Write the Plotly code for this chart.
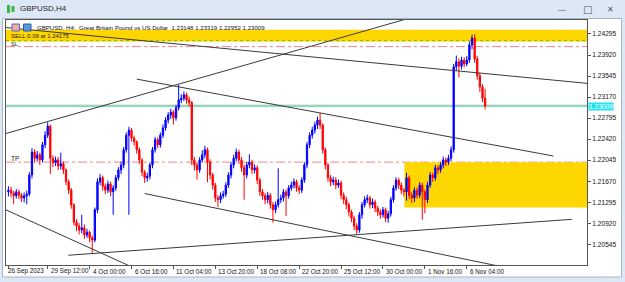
import plotly.graph_objects as go

# ---------------- data ----------------
open_ = [1.2148,1.2151,1.2146,1.2141,1.2148,1.2142,1.2137,1.2141,1.2144,1.2178,
 1.2219,1.2208,1.2214,1.2205,1.2232,1.2249,1.2265,1.2208,1.2200,1.2205,
 1.2194,1.2198,1.2187,1.2166,1.2151,1.2125,1.2094,1.2087,1.2080,1.2084,
 1.2071,1.2076,1.2066,1.2062,1.2116,1.2166,1.2173,1.2158,1.2151,1.2162,
 1.2148,1.2155,1.2173,1.2187,1.2196,1.2223,1.2249,1.2258,1.2244,1.2237,
 1.2223,1.2205,1.2183,1.2173,1.2176,1.2196,1.2223,1.2241,1.2232,1.2249,
 1.2262,1.2276,1.2285,1.2290,1.2280,1.2298,1.2312,1.2315,1.2321,1.2312,
 1.2307,1.2205,1.2196,1.2187,1.2205,1.2214,1.2223,1.2201,1.2178,1.2160,
 1.2137,1.2134,1.2141,1.2144,1.2160,1.2178,1.2196,1.2208,1.2219,1.2205,
 1.2191,1.2178,1.2196,1.2201,1.2187,1.2191,1.2169,1.2148,1.2141,1.2134,
 1.2142,1.2125,1.2116,1.2125,1.2134,1.2137,1.2148,1.2141,1.2155,1.2160,
 1.2166,1.2155,1.2151,1.2169,1.2196,1.2232,1.2249,1.2258,1.2267,1.2276,
 1.2267,1.2223,1.2196,1.2173,1.2166,1.2169,1.2160,1.2164,1.2142,1.2134,
 1.2125,1.2112,1.2101,1.2087,1.2080,1.2107,1.2125,1.2134,1.2137,1.2125,
 1.2130,1.2119,1.2112,1.2107,1.2116,1.2101,1.2109,1.2134,1.2155,1.2169,
 1.2160,1.2151,1.2148,1.2173,1.2142,1.2137,1.2151,1.2142,1.2160,1.2148,
 1.2134,1.2160,1.2178,1.2173,1.2191,1.2187,1.2196,1.2205,1.2201,1.2208,
 1.2223,1.2371,1.2380,1.2372,1.2383,1.2376,1.2383,1.2410,1.2422,1.2385,
 1.2355,1.2335,1.23148]

high = [1.2158,1.2157,1.2150,1.2153,1.2152,1.2146,1.2147,1.2150,1.2183,1.2226,
 1.2224,1.2221,1.2218,1.2237,1.2256,1.2272,1.2268,1.2213,1.2211,1.2210,
 1.2218,1.2202,1.2190,1.2170,1.2155,1.2128,1.2099,1.2092,1.2107,1.2090,
 1.2082,1.2079,1.2070,1.2120,1.2172,1.2180,1.2177,1.2163,1.2168,1.2166,
 1.2160,1.2178,1.2192,1.2202,1.2228,1.2254,1.2264,1.2262,1.2248,1.2240,
 1.2227,1.2208,1.2187,1.2182,1.2200,1.2228,1.2246,1.2245,1.2254,1.2268,
 1.2281,1.2290,1.2296,1.2294,1.2303,1.2339,1.2322,1.2327,1.2325,1.2318,
 1.2310,1.2210,1.2201,1.2210,1.2222,1.2230,1.2227,1.2206,1.2182,1.2164,
 1.2142,1.2147,1.2150,1.2165,1.2183,1.2201,1.2214,1.2225,1.2223,1.2210,
 1.2196,1.2201,1.2215,1.2205,1.2197,1.2195,1.2173,1.2153,1.2146,1.2148,
 1.2146,1.2130,1.2131,1.2190,1.2143,1.2153,1.2152,1.2160,1.2166,1.2172,
 1.2170,1.2160,1.2174,1.2201,1.2237,1.2254,1.2264,1.2273,1.2282,1.2289,
 1.2270,1.2227,1.2200,1.2178,1.2175,1.2174,1.2170,1.2168,1.2147,1.2139,
 1.2129,1.2116,1.2105,1.2092,1.2112,1.2130,1.2140,1.2143,1.2141,1.2136,
 1.2134,1.2123,1.2117,1.2121,1.2120,1.2114,1.2139,1.2160,1.2174,1.2173,
 1.2165,1.2155,1.2182,1.2177,1.2147,1.2156,1.2156,1.2165,1.2164,1.2152,
 1.2166,1.2183,1.2182,1.2196,1.2195,1.2201,1.2211,1.2209,1.2214,1.2229,
 1.2376,1.2391,1.2386,1.2389,1.2388,1.2390,1.2416,1.2428,1.2429,1.2390,
 1.2360,1.2340,1.23319]

low = [1.2140,1.2138,1.2126,1.2136,1.2135,1.2130,1.2129,1.2126,1.2140,1.2172,
 1.2200,1.2203,1.2196,1.2201,1.2226,1.2244,1.2180,1.2192,1.2194,1.2187,
 1.2188,1.2180,1.2160,1.2144,1.2118,1.2088,1.2078,1.2072,1.2074,1.2064,
 1.2066,1.2058,1.2039,1.2058,1.2110,1.2160,1.2150,1.2144,1.2146,1.2140,
 1.2107,1.2150,1.2168,1.2180,1.2190,1.2218,1.2107,1.2238,1.2230,1.2216,
 1.2198,1.2176,1.2164,1.2166,1.2170,1.2190,1.2218,1.2226,1.2227,1.2244,
 1.2257,1.2270,1.2278,1.2268,1.2275,1.2293,1.2306,1.2310,1.2305,1.2300,
 1.2196,1.2186,1.2170,1.2182,1.2200,1.2208,1.2165,1.2170,1.2152,1.2130,
 1.2121,1.2128,1.2136,1.2139,1.2155,1.2172,1.2190,1.2203,1.2198,1.2184,
 1.2134,1.2172,1.2190,1.2180,1.2181,1.2162,1.2141,1.2134,1.2126,1.2128,
 1.2118,1.2093,1.2110,1.2120,1.2128,1.2131,1.2105,1.2136,1.2150,1.2154,
 1.2148,1.2144,1.2146,1.2164,1.2190,1.2226,1.2243,1.2252,1.2260,1.2260,
 1.2216,1.2188,1.2166,1.2158,1.2160,1.2153,1.2155,1.2135,1.2126,1.2117,
 1.2104,1.2094,1.2080,1.2072,1.2075,1.2100,1.2120,1.2128,1.2118,1.2119,
 1.2112,1.2105,1.2100,1.2102,1.2094,1.2093,1.2104,1.2129,1.2150,1.2153,
 1.2144,1.2140,1.2132,1.2135,1.2128,1.2130,1.2136,1.2137,1.2098,1.2110,
 1.2128,1.2155,1.2166,1.2168,1.2180,1.2182,1.2190,1.2194,1.2196,1.2203,
 1.2218,1.2364,1.2352,1.2366,1.2370,1.2372,1.2378,1.2402,1.2378,1.2348,
 1.2326,1.2308,1.22952]

close = [1.2151,1.2146,1.2141,1.2148,1.2142,1.2137,1.2141,1.2144,1.2178,1.2219,
 1.2208,1.2214,1.2205,1.2232,1.2249,1.2265,1.2208,1.2200,1.2205,1.2194,
 1.2198,1.2187,1.2166,1.2151,1.2125,1.2094,1.2087,1.2080,1.2084,1.2071,
 1.2076,1.2066,1.2062,1.2116,1.2166,1.2173,1.2158,1.2151,1.2162,1.2148,
 1.2155,1.2173,1.2187,1.2196,1.2223,1.2249,1.2258,1.2244,1.2237,1.2223,
 1.2205,1.2183,1.2173,1.2176,1.2196,1.2223,1.2241,1.2232,1.2249,1.2262,
 1.2276,1.2285,1.2290,1.2280,1.2298,1.2312,1.2315,1.2321,1.2312,1.2307,
 1.2205,1.2196,1.2187,1.2205,1.2214,1.2223,1.2201,1.2178,1.2160,1.2137,
 1.2134,1.2141,1.2144,1.2160,1.2178,1.2196,1.2208,1.2219,1.2205,1.2191,
 1.2178,1.2196,1.2201,1.2187,1.2191,1.2169,1.2148,1.2141,1.2134,1.2142,
 1.2125,1.2116,1.2125,1.2134,1.2137,1.2148,1.2141,1.2155,1.2160,1.2166,
 1.2155,1.2151,1.2169,1.2196,1.2232,1.2249,1.2258,1.2267,1.2276,1.2267,
 1.2223,1.2196,1.2173,1.2166,1.2169,1.2160,1.2164,1.2142,1.2134,1.2125,
 1.2112,1.2101,1.2087,1.2080,1.2107,1.2125,1.2134,1.2137,1.2125,1.2130,
 1.2119,1.2112,1.2107,1.2116,1.2101,1.2109,1.2134,1.2155,1.2169,1.2160,
 1.2151,1.2148,1.2173,1.2142,1.2137,1.2151,1.2142,1.2160,1.2148,1.2134,
 1.2160,1.2178,1.2173,1.2191,1.2187,1.2196,1.2205,1.2201,1.2208,1.2223,
 1.2371,1.2380,1.2372,1.2383,1.2376,1.2383,1.2410,1.2422,1.2385,1.2355,
 1.2335,1.23148,1.23009]

tick_bars = [0, 15, 31, 47, 63, 79, 95, 111, 127, 143, 159, 175]
tick_text = ["26 Sep 2023", "29 Sep 12:00", "4 Oct 00:00", "6 Oct 16:00",
             "11 Oct 04:00", "13 Oct 20:00", "18 Oct 08:00", "22 Oct 20:00",
             "25 Oct 12:00", "30 Oct 00:00", "1 Nov 16:00", "6 Nov 04:00"]
price_ticks = [1.24295, 1.23920, 1.23545, 1.23170, 1.22795, 1.22420,
               1.22045, 1.21670, 1.21295, 1.20920, 1.20545]

bid_price = 1.23009
sell_price = 1.24175
sl_price = 1.2407
tp_price = 1.2201
zone_top = [1.2416, 1.2437]
zone_bottom = [151.2, 1.2120, 1.2201]
# trendline anchors: (bar, price) pairs
trendlines = [
    [(-1, 1.2252), (160, 1.2467)],
    [(49, 1.2349), (208, 1.2212)],
    [(-1, 1.2441), (222, 1.2341)],
    [(-1, 1.2116), (50, 1.2008)],
    [(52, 1.2145), (190, 1.2013)],
    [(22.9, 1.2035), (215.1, 1.2099)],
]

bars = list(range(len(close)))

# ---------------- layout helpers ----------------
W, H = 625, 282
ML, MR, MT, MB = 6, 38, 20, 17
PW, PH = W - ML - MR, H - MT - MB
def PX(px):
    return (px - ML) / PW
def PY(py):
    return (H - MB - py) / PH

FONT = "Liberation Sans, Arial, sans-serif"

fig = go.Figure()
fig.add_trace(go.Candlestick(
    x=bars, open=open_, high=high, low=low, close=close,
    increasing=dict(line=dict(color="#0000ff", width=1), fillcolor="#0000ff"),
    decreasing=dict(line=dict(color="#ff0000", width=1), fillcolor="#ff0000"),
    whiskerwidth=0, hoverinfo="skip", showlegend=False))

for tl in trendlines:
    fig.add_trace(go.Scatter(
        x=[p[0] for p in tl], y=[p[1] for p in tl], mode="lines",
        line=dict(color="#3a3a3a", width=1), hoverinfo="skip", showlegend=False))

shapes = [
    dict(type="rect", xref="paper", yref="paper", x0=PX(2.5), x1=PX(621.5),
         y0=PY(277), y1=PY(18.5), fillcolor="white",
         line=dict(color="#a9b4c2", width=1), layer="below"),
    dict(type="rect", xref="paper", yref="y", x0=0, x1=1,
         y0=zone_top[0], y1=zone_top[1], fillcolor="#ffd700",
         line=dict(width=0), layer="below"),
    dict(type="rect", xref="x", yref="y", x0=zone_bottom[0], x1=240,
         y0=zone_bottom[1], y1=zone_bottom[2], fillcolor="#ffd700",
         line=dict(width=0), layer="below"),
    dict(type="line", xref="paper", yref="y", x0=0, x1=1, y0=sell_price, y1=sell_price,
         line=dict(color="#8cc21a", width=1.2, dash="dot"), layer="below"),
    dict(type="line", xref="paper", yref="y", x0=0, x1=1, y0=sl_price, y1=sl_price,
         line=dict(color="#f48484", width=1, dash="dashdot"), layer="below"),
    dict(type="line", xref="paper", yref="y", x0=0, x1=1, y0=tp_price, y1=tp_price,
         line=dict(color="#f48484", width=1, dash="dashdot"), layer="below"),
    dict(type="line", xref="paper", yref="y", x0=0, x1=1, y0=bid_price + 0.00018,
         y1=bid_price + 0.00018, line=dict(color="#e6c48e", width=1), layer="below"),
    dict(type="line", xref="paper", yref="y", x0=0, x1=1, y0=bid_price, y1=bid_price,
         line=dict(color="#3fd6c0", width=1.4), layer="below"),
    dict(type="rect", xref="paper", yref="paper", x0=PX(7), x1=PX(10), y0=PY(13), y1=PY(5),
         fillcolor="#3bb54a", line=dict(width=0)),
    dict(type="rect", xref="paper", yref="paper", x0=PX(11.5), x1=PX(14.5), y0=PY(12), y1=PY(6),
         fillcolor="#3bb54a", line=dict(width=0)),
    dict(type="rect", xref="paper", yref="paper", x0=PX(12), x1=PX(19.5), y0=PY(31), y1=PY(24),
         fillcolor="#f3a7a7", line=dict(color="#4d6fb8", width=1)),
    dict(type="rect", xref="paper", yref="paper", x0=PX(23.5), x1=PX(31), y0=PY(31), y1=PY(24),
         fillcolor="#5d95dc", line=dict(color="#2c5aa8", width=1)),
]

annotations = [
    dict(text="GBPUSD,H4", xref="paper", yref="paper", x=PX(18), y=PY(9),
         xanchor="left", yanchor="middle", showarrow=False,
         font=dict(family=FONT, size=8, color="#1e1e1e")),
    dict(text="\u2014", xref="paper", yref="paper", x=PX(562), y=PY(10),
         xanchor="center", yanchor="middle", showarrow=False,
         font=dict(family=FONT, size=8, color="#555")),
    dict(text="\u25a1", xref="paper", yref="paper", x=PX(587), y=PY(9.5),
         xanchor="center", yanchor="middle", showarrow=False,
         font=dict(family="DejaVu Sans", size=10, color="#555")),
    dict(text="\u2715", xref="paper", yref="paper", x=PX(610), y=PY(9.5),
         xanchor="center", yanchor="middle", showarrow=False,
         font=dict(family="DejaVu Sans", size=8, color="#555")),
    dict(text="GBPUSD, H4:  Great Britain Pound vs US Dollar  1.23148 1.23319 1.22952 1.23009",
         xref="paper", yref="paper", x=PX(35), y=PY(27), xanchor="left", yanchor="middle",
         showarrow=False, font=dict(family=FONT, size=6.1, color="#111")),
    dict(text="SELL 0.09 at 1.24175", xref="paper", yref="paper", x=PX(9), y=PY(36),
         xanchor="left", yanchor="middle", showarrow=False,
         font=dict(family=FONT, size=6, color="#222")),
    dict(text="SL", xref="paper", yref="paper", x=PX(9), y=PY(43.5),
         xanchor="left", yanchor="middle", showarrow=False,
         font=dict(family=FONT, size=5.5, color="#222")),
    dict(text="TP", xref="paper", yref="paper", x=PX(9), y=PY(158),
         xanchor="left", yanchor="middle", showarrow=False,
         font=dict(family=FONT, size=6.5, color="#222")),
    dict(text="1.23009", xref="paper", yref="y", x=1.0, xshift=1, y=bid_price,
         xanchor="left", yanchor="middle", showarrow=False, bgcolor="#1fe3ee",
         borderpad=0, font=dict(family=FONT, size=6.6, color="white")),
]
for b, t in zip(tick_bars, tick_text):
    annotations.append(dict(text=t, xref="x", yref="paper", x=b, xshift=1 if b else -2,
                            y=PY(271), xanchor="left", yanchor="middle", showarrow=False,
                            font=dict(family=FONT, size=6.3, color="#111")))

fig.update_layout(
    width=W, height=H, margin=dict(l=ML, r=MR, t=MT, b=MB),
    paper_bgcolor="#dce8f6", plot_bgcolor="white",
    shapes=shapes, annotations=annotations, showlegend=False,
    xaxis=dict(range=[-0.92, 220.9], rangeslider=dict(visible=False),
               showgrid=False, zeroline=False, showline=True, linecolor="#555",
               linewidth=1, mirror=True, ticks="outside", ticklen=3, tickcolor="#555",
               tickvals=tick_bars, showticklabels=False),
    yaxis=dict(range=[1.20176, 1.24544], side="right", showgrid=False, zeroline=False,
               showline=True, linecolor="#555", linewidth=1, mirror=True,
               ticks="outside", ticklen=3, tickcolor="#555",
               tickvals=price_ticks, ticktext=["%.5f" % v for v in price_ticks],
               tickfont=dict(family=FONT, size=6.6, color="#111")),
)

fig.write_html("out.html")
